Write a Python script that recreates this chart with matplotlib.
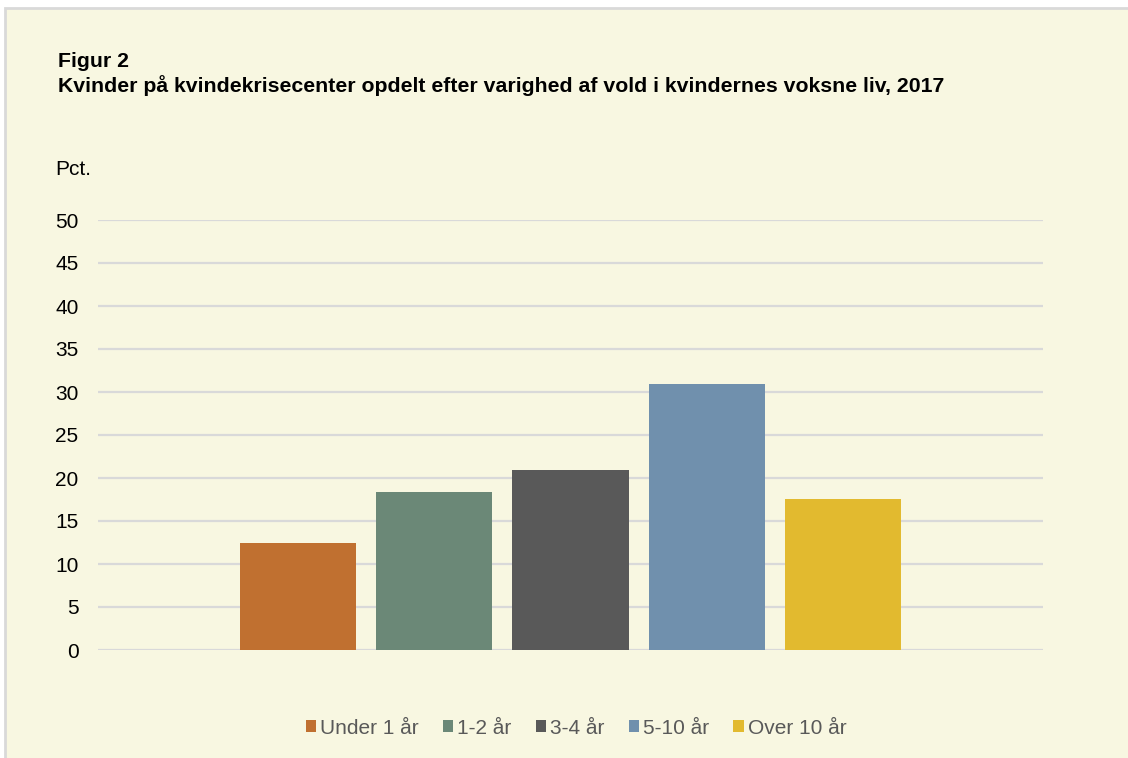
import matplotlib
matplotlib.use("Agg")
import matplotlib.pyplot as plt
from matplotlib.patches import Rectangle

plt.rcParams['font.family'] = ['Liberation Sans', 'DejaVu Sans']

categories = ["Under 1 år", "1-2 år", "3-4 år", "5-10 år", "Over 10 år"]
values = [12.5, 18.4, 20.9, 30.9, 17.6]
colors = ["#c07030", "#6b8877", "#595959", "#7090ad", "#e2ba2f"]
yticks = [0, 5, 10, 15, 20, 25, 30, 35, 40, 45, 50]

W, H = 1128, 758
fig = plt.figure(figsize=(W / 100, H / 100), dpi=100)
fig.patch.set_facecolor("white")
bg = "#f8f7e1"
fig.patches.append(Rectangle((5 / W, -0.05), 1.0, 1.05 - 8 / H, transform=fig.transFigure,
                             facecolor=bg, edgecolor="#d9d9d9", linewidth=2, zorder=-1))

ax = fig.add_axes([98 / W, 1 - 650 / H, (1043 - 98) / W, (650 - 220) / H])
ax.set_zorder(2)
ax.set_facecolor("none")
for i, (c, v, col) in enumerate(zip(categories, values, colors)):
    ax.bar(i, v, width=0.853, color=col, label=c, zorder=2)
ax.set_xlim(-1.474, 5.474)
ax.set_ylim(0, 50)
ax.set_yticks(yticks)
ax.set_yticklabels([str(t) for t in yticks], fontsize=15, color="black")
ax.set_xticks([])
ax.grid(axis="y", color="#d9d9d9", linewidth=1.6, zorder=0)
ax.set_axisbelow(True)
ax.tick_params(axis="y", length=0, pad=14)
for s in ax.spines.values():
    s.set_visible(False)

fig.text(58 / W, 1 - 67 / H, "Figur 2", fontsize=15.3, fontweight="bold", ha="left", va="baseline")
fig.text(58 / W, 1 - 92 / H, "Kvinder på kvindekrisecenter opdelt efter varighed af vold i kvindernes voksne liv, 2017",
         fontsize=15.3, fontweight="bold", ha="left", va="baseline")
fig.text(55 / W, 1 - 175 / H, "Pct.", fontsize=15, ha="left", va="baseline")

leg = fig.legend(loc="center", bbox_to_anchor=(576 / W, 1 - 728 / H), ncol=5, frameon=False,
                 fontsize=15, handlelength=0.5, handleheight=0.5, handletextpad=0.2,
                 columnspacing=1.15, labelcolor="#595959")

fig.savefig("out.png", dpi=100, facecolor=fig.get_facecolor())
